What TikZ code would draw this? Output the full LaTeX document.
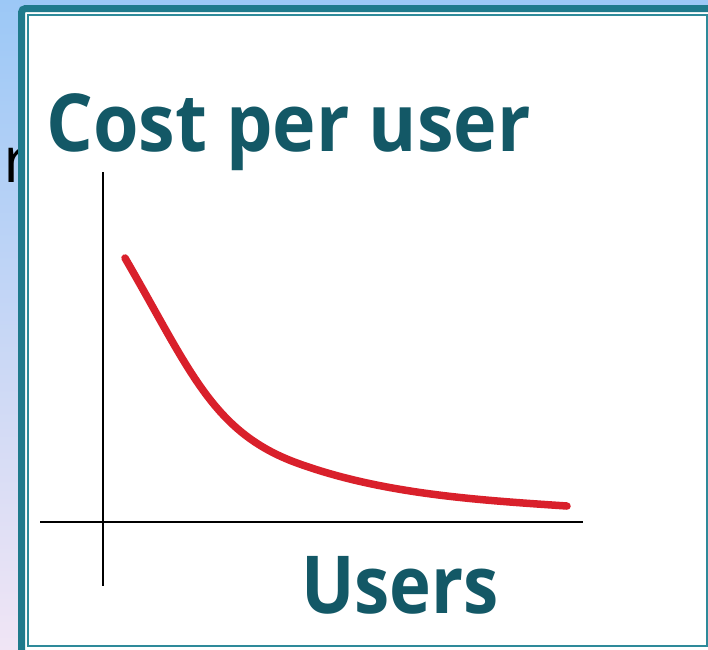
\documentclass[tikz,border=0pt]{standalone}
\usepackage{fontspec}
\setmainfont{Open Sans}
\newfontfamily\titlefont{Open Sans}[FakeStretch=0.92]
\newfontfamily\labelfont{Open Sans}[FakeStretch=0.885]
\definecolor{bgtop}{HTML}{9CC8F6}
\definecolor{bgbot}{HTML}{F0E5F5}
\definecolor{frameteal}{HTML}{1F7A8C}
\definecolor{innerteal}{HTML}{2E8A9A}
\definecolor{titleteal}{HTML}{135866}
\definecolor{curvered}{HTML}{D9202B}
\tikzset{
  bigtext/.style={anchor=base west, inner sep=0pt, text=titleteal},
  axisline/.style={draw=black, line width=2.5pt},
  costcurve/.style={draw=curvered, line width=7.5pt, line cap=round, line join=round}
}
\begin{document}
\begin{tikzpicture}[x=1pt,y=-1pt]
\useasboundingbox (0,0) rectangle (708,649);
% background gradient
\shade[top color=bgtop, bottom color=bgbot] (0,0) rectangle (708,649);
% letter behind the panel
\node[anchor=base west, inner sep=0pt, text=black, font=\fontsize{64}{76}\selectfont] (behind) at (3,182) {r};
% panel
\begin{scope}
\clip (0,0) rectangle (708,649);
\draw[draw=frameteal, fill=white, line width=7pt, rounded corners=4pt] (21.5,8.5) rectangle (730,680);
\draw[draw=innerteal, line width=1.8pt] (28,15) rectangle (707,646);
\end{scope}
% axes
\coordinate (ytop) at (103,172);
\coordinate (ybot) at (103,586);
\coordinate (xleft) at (40,522);
\coordinate (xright) at (583,522);
\draw[axisline] (ytop) -- (ybot);
\draw[axisline] (xleft) -- (xright);
% curve
\coordinate (cstart) at (125,258);
\coordinate (cmid) at (297,463);
\coordinate (cend) at (567,506);
\draw[costcurve] (cstart) .. controls (190,370) and (212,432) .. (cmid)
  .. controls (382,494) and (477,500) .. (cend);
% labels
\node[bigtext, font=\fontsize{80}{96}\titlefont\bfseries] (title) at (46,151) {Cost per user};
\node[bigtext, font=\fontsize{80}{96}\labelfont\bfseries] (xlabel) at (301,613) {Users};
\end{tikzpicture}
\end{document}
